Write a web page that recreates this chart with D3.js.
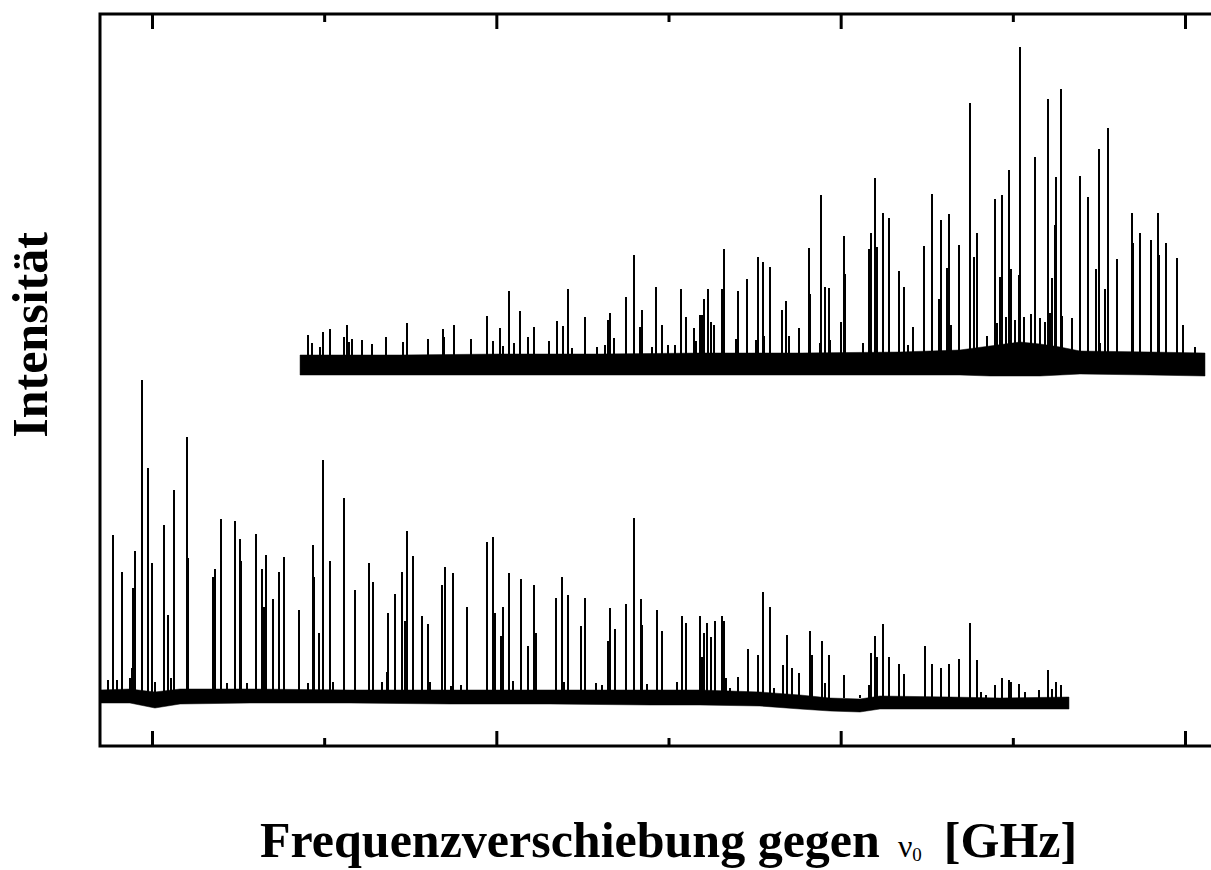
<!DOCTYPE html>
<html lang="en">
  <head>
    <script src="https://d3js.org/d3.v7.min.js"></script>
    <meta charset="utf-8"/>
    <title>Spektrum</title>
  </head>
  <body style="margin:0;background:#fff">
    <svg id="chart"></svg>
  </body>

  <style>
  .peak {
    stroke: #000;
    stroke-width: 2px;
    shape-rendering: crispEdges;
  }
  .spike {
    stroke: #000;
    stroke-width: 2px;
    shape-rendering: crispEdges;
  }
  .band {
    fill: #000;
    stroke: #000;
    stroke-width: 0.5px;
  }
  .axis path { display: none; }
  .axis line { stroke: #000; stroke-width: 3px; }
  </style>

  <script>
    const width = 1211;
    const height = 870;

    // Frequenzachse in GHz, Intensitaet in willkuerlichen Einheiten
    const majorTicks = [0, 20, 40, 60];
    const minorTicks = [10, 30, 50];

    // untere Messung: Linienlagen und Hoehen
    const lowerPeakGHz = [-2.25, -1.76, -1.09, -0.99, -0.60, -0.25, 0.00, 0.70, 0.93, 1.28, 2.02, 2.09,
      3.53, 3.68, 3.99, 4.80, 5.09, 5.17, 6.02, 6.37, 6.51, 6.62, 7.01, 7.38, 7.65, 8.56, 9.37, 9.41,
      9.72, 9.91, 10.34, 11.13, 11.81, 12.62, 12.82, 13.63, 13.73, 14.11, 14.50, 14.70, 14.79, 15.16,
      15.67, 16.01, 16.83, 17.00, 17.48, 18.28, 19.46, 19.81, 19.92, 20.25, 20.37, 20.74, 21.42, 21.82,
      22.17, 22.29, 23.48, 23.83, 24.16, 24.90, 25.15, 26.50, 26.58, 26.88, 27.55, 27.98, 28.39, 28.46,
      29.31, 29.61, 30.77, 31.02, 31.83, 31.95, 32.06, 32.25, 32.49, 32.68, 33.11, 33.21, 33.34, 34.04,
      34.60, 35.20, 35.51, 35.90, 36.63, 36.86, 37.17, 37.56, 38.22, 38.32, 38.90, 39.31, 40.21, 41.74,
      42.01, 42.13, 42.44, 42.79, 43.37, 43.66, 44.88, 45.29, 45.81, 46.28, 46.86, 47.50, 47.92, 48.95,
      49.35, 49.76, 49.89, 50.36, 52.03, 52.49, 52.80];
    const lowerPeakInt = [211, 174, 158, 195, 366, 278, 183, 221, 131, 256, 309, 188,
      169, 177, 227, 225, 207, 185, 212, 177, 139, 191, 147, 174, 189, 136, 201, 169,
      113, 286, 185, 248, 156, 183, 164, 74, 133, 152, 174, 125, 215, 190,
      130, 122, 161, 179, 173, 139, 204, 209, 133, 110, 139, 173, 167, 100,
      161, 113, 148, 169, 151, 120, 148, 105, 138, 117, 142, 228, 147, 121,
      136, 115, 130, 123, 130, 89, 113, 123, 109, 125, 130, 125, 68, 69,
      97, 91, 154, 139, 81, 111, 78, 73, 115, 91, 105, 91, 71, 93,
      110, 89, 122, 89, 82, 72, 100, 82, 78, 82, 87, 123, 86, 61,
      68, 66, 64, 62, 76, 64, 61];
    // kleine Rauschspitzen der unteren Messung
    const lowerSpikeGHz = [-2.57, -2.05, -1.28, -1.18, 0.17, 1.10, 4.34, 5.50, 9.08, 10.53, 13.34, 16.15,
      17.37, 17.93, 20.99, 23.93, 25.79, 26.14, 28.73, 30.51, 33.57, 36.15, 39.11, 41.12, 41.63, 48.13,
      48.46, 50.70, 51.51, 52.30];
    const lowerSpikeInt = [66, 66, 68, 78, 64, 68, 63, 63, 63, 64, 64, 64,
      60, 61, 65, 64, 63, 61, 62, 64, 58, 58, 63, 51, 61, 54,
      51, 54, 56, 57];
    const lowerBase = 48;

    // Rauschband der unteren Messung (Ober- und Unterkante)
    const lowerBandGHz = [-3.02, -1.28, 0.17, 1.63, 5.69, 11.50, 17.31, 23.12, 28.93, 31.83, 35.31,
      37.64, 39.38, 41.12, 42.28, 46.35, 49.25, 53.26];
    const lowerBandTop = [56, 57, 54, 57, 57, 56, 56, 56, 56, 56, 54, 51, 48, 47, 50, 49, 48, 49];
    const lowerBandBottom = [43, 43, 38, 42, 43, 43, 42, 42, 41, 41, 40, 37, 35, 34, 37, 37, 37, 37];

    // obere Messung: Linienlagen und Hoehen
    const upperPeakGHz = [9.04, 9.95, 10.34, 11.31, 11.62, 13.57, 14.79, 16.05, 16.89, 17.52, 18.53,
      19.46, 19.82, 20.23, 20.74, 21.39, 21.82, 22.19, 23.51, 23.86, 24.16, 25.15, 26.46, 26.58, 26.85,
      27.51, 27.98, 28.36, 28.46, 29.27, 29.61, 30.74, 31.00, 31.46, 31.85, 31.95, 32.08, 32.28, 32.45,
      32.66, 33.11, 33.21, 34.02, 34.58, 35.18, 35.47, 35.90, 36.59, 36.81, 37.02, 37.56, 38.18, 38.24,
      38.86, 39.11, 39.31, 40.04, 40.19, 40.27, 41.63, 41.74, 41.99, 42.11, 42.46, 42.79, 43.37, 43.68,
      44.22, 44.84, 45.29, 45.71, 45.81, 46.19, 46.29, 46.43, 46.87, 47.50, 47.73, 47.94, 48.96, 49.24,
      49.35, 49.76, 49.89, 50.34, 50.42, 51.29, 52.03, 52.29, 52.43, 52.49, 52.82, 53.90, 54.37, 54.85,
      54.99, 55.35, 55.53, 56.03, 56.92, 56.96, 57.39, 58.02, 58.41, 58.51, 58.91, 59.53, 59.88];
    const upperPeakInt = [411, 414, 417, 421, 407, 409, 423, 407, 417, 421, 407,
      430, 405, 418, 455, 435, 409, 419, 425, 420, 457, 429, 426, 433, 408,
      449, 491, 419, 436, 459, 421, 457, 429, 418, 431, 431, 447, 457, 424,
      421, 457, 497, 455, 467, 489, 484, 479, 436, 445, 410, 418, 498, 452,
      551, 459, 458, 424, 510, 472, 497, 513, 568, 499, 533, 528, 475, 459,
      419, 500, 552, 447, 526, 478, 532, 421, 501, 643, 489, 513, 547, 469,
      551, 576, 477, 471, 699, 589, 647, 468, 521, 569, 657, 570, 549, 477,
      597, 457, 618, 487, 533, 503, 513, 506, 533, 491, 503, 488, 421];
    // kleine Rauschspitzen der oberen Messung
    const upperSpikeGHz = [9.28, 9.76, 11.17, 11.46, 12.18, 12.80, 14.60, 16.98, 20.39, 21.03, 23.08,
      24.38, 25.83, 26.31, 29.02, 29.99, 30.38, 31.58, 33.92, 35.09, 35.55, 38.80, 39.38, 41.32, 43.93,
      48.48, 49.06, 49.60, 50.12, 50.64, 51.05, 51.57, 51.86, 52.15, 52.87, 53.45, 55.05, 60.58];
    const upperSpikeInt = [403, 399, 409, 404, 406, 402, 404, 409, 400, 403, 405,
      398, 399, 401, 399, 401, 401, 405, 407, 406, 410, 403, 406, 403, 401,
      410, 423, 429, 426, 429, 432, 428, 424, 433, 430, 428, 403, 399];
    const upperBase = 380;

    // Rauschband der oberen Messung
    const upperBandGHz = [8.60, 14.40, 20.21, 26.02, 31.83, 37.64, 43.45, 46.93, 48.67, 50.42, 51.58,
      52.74, 53.90, 57.97, 61.16];
    const upperBandTop = [391, 391, 392, 392, 393, 393, 394, 396, 400, 404, 402, 399, 395, 394, 393];
    const upperBandBottom = [371, 371, 371, 371, 371, 371, 371, 371, 370, 370, 370, 371, 372, 371, 370];

    const svg = d3.select("#chart")
      .attr("width", width)
      .attr("height", height);

    const xScale = d3.scaleLinear().domain([0, 60]).range([152, 1185]);
    const yScale = d3.scaleLinear().domain([0, 732]).range([746, 14]);

    const plot = svg.append("g");

    function drawLines(xs, ys, base, cls) {
      plot.selectAll(null)
        .data(xs)
        .enter()
        .append("line")
        .attr("class", cls)
        .attr("x1", d => Math.round(xScale(d)))
        .attr("x2", d => Math.round(xScale(d)))
        .attr("y1", yScale(base))
        .attr("y2", (d, i) => yScale(ys[i]));
    }

    function drawSpectrum(bandX, bandTop, bandBottom, peakX, peakY, spikeX, spikeY, base) {
      const area = d3.area()
        .x((d, i) => xScale(bandX[i]))
        .y0((d, i) => yScale(bandBottom[i]))
        .y1((d, i) => yScale(bandTop[i]));

      plot.append("path")
        .datum(bandX)
        .attr("class", "band")
        .attr("d", area);

      drawLines(spikeX, spikeY, base, "spike");
      drawLines(peakX, peakY, base, "peak");
    }

    drawSpectrum(upperBandGHz, upperBandTop, upperBandBottom, upperPeakGHz, upperPeakInt,
      upperSpikeGHz, upperSpikeInt, upperBase);
    drawSpectrum(lowerBandGHz, lowerBandTop, lowerBandBottom, lowerPeakGHz, lowerPeakInt,
      lowerSpikeGHz, lowerSpikeInt, lowerBase);

    // Rahmen
    svg.append("rect")
      .attr("x", 100)
      .attr("y", 14)
      .attr("width", 1116)
      .attr("height", 732)
      .attr("fill", "none")
      .attr("stroke", "#000")
      .attr("stroke-width", 3);

    // Ticks innen, oben und unten
    const tickSets = [[majorTicks, 15], [minorTicks, 8]];
    tickSets.forEach(([vals, len]) => {
      svg.append("g")
        .attr("class", "axis")
        .attr("transform", "translate(0,746)")
        .call(d3.axisBottom(xScale).tickValues(vals).tickSize(-len).tickFormat(""));
      svg.append("g")
        .attr("class", "axis")
        .attr("transform", "translate(0,14)")
        .call(d3.axisTop(xScale).tickValues(vals).tickSize(-len).tickFormat(""));
    });

    // Achsenbeschriftungen
    svg.append("text")
      .attr("transform", "translate(47,335) rotate(-90)")
      .attr("text-anchor", "middle")
      .style("font-family", "'Liberation Serif', 'Times New Roman', serif")
      .style("font-weight", "bold")
      .style("font-size", "50px")
      .text("Intensität");

    const xlab = svg.append("text")
      .attr("x", 260)
      .attr("y", 857)
      .style("font-family", "'Liberation Serif', 'Times New Roman', serif")
      .style("font-size", "50px");
    xlab.append("tspan")
      .style("font-weight", "bold")
      .text("Frequenzverschiebung gegen");
    xlab.append("tspan")
      .attr("dx", 18)
      .style("font-size", "32px")
      .text("ν");
    xlab.append("tspan")
      .attr("dy", 4)
      .style("font-size", "19px")
      .text("0");
    xlab.append("tspan")
      .attr("dx", 22)
      .attr("dy", -4)
      .style("font-weight", "bold")
      .text("[GHz]");
  </script>
</html>
